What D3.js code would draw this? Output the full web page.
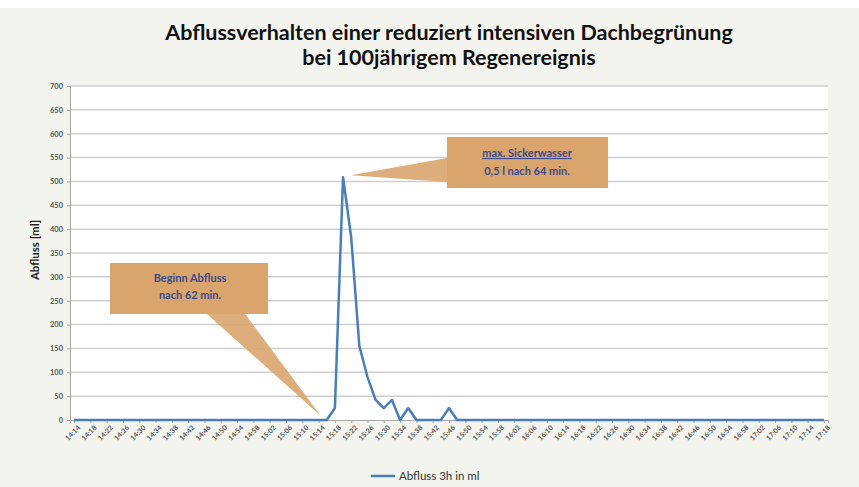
<!DOCTYPE html>
<html><head><meta charset="utf-8">
<script src="https://cdn.jsdelivr.net/npm/d3@7"></script>
<style>body{margin:0;background:#fff}svg{display:block}</style>
</head><body><svg id="c" width="859" height="487"></svg>
<script>
// ---- data ----
const startTime = "14:14";
const stepMinutes = 2;
const values = [
  0,0,0,0,0,0,0,0,0,0, 0,0,0,0,0,0,0,0,0,0, 0,0,0,0,0,0,0,0,0,0,
  0,0,25,509,383,155,90,42,25,42, 0,25,0,0,0,0,25,0,0,0,
  0,0,0,0,0,0,0,0,0,0, 0,0,0,0,0,0,0,0,0,0, 0,0,0,0,0,0,0,0,0,0,
  0,0,0,0,0,0,0,0,0,0, 0,0,0
];
const yTicks = [0,50,100,150,200,250,300,350,400,450,500,550,600,650,700];
const titleLines = ["Abflussverhalten einer reduziert intensiven Dachbegrünung","bei 100jährigem Regenereignis"];
const yTitle = "Abfluss [ml]";
const seriesName = "Abfluss 3h in ml";
const note1 = ["Beginn Abfluss","nach 62 min."];
const note2 = ["max. Sickerwasser","0,5 l nach 64 min."];

// build time categories
function fmt(m){const h=Math.floor(m/60),mm=m%60;return String(h).padStart(2,"0")+":"+String(mm).padStart(2,"0");}
const [sh,sm] = startTime.split(":").map(Number);
const times = values.map((v,i)=>fmt(sh*60+sm+i*stepMinutes));
const data = values.map((v,i)=>({t:times[i],v}));

const svg = d3.select("#c");
const W=859,H=487;
svg.append("rect").attr("width",W).attr("height",H).attr("fill","#f4f4ef");
svg.append("rect").attr("width",W).attr("height",8).attr("fill","#ffffff");

const m = {l:70,r:828,t:86,b:420};
svg.append("rect").attr("x",m.l).attr("y",m.t).attr("width",m.r-m.l).attr("height",m.b-m.t).attr("fill","#ffffff");

const x = d3.scalePoint().domain(times).range([m.l,m.r]).padding(0.5);
const y = d3.scaleLinear().domain([0,700]).range([m.b,m.t]);

// grid
svg.append("g").selectAll("line").data(yTicks.filter(d=>d>0)).join("line")
  .attr("x1",m.l).attr("x2",m.r).attr("y1",d=>y(d)).attr("y2",d=>y(d))
  .attr("stroke","#cfcfcf").attr("stroke-width",1.5);

// y axis
const ya = svg.append("g").attr("transform",`translate(${m.l},0)`)
  .call(d3.axisLeft(y).tickValues(yTicks).tickSize(3).tickPadding(4));
ya.select(".domain").attr("stroke","#a6a6a6");
ya.selectAll(".tick line").attr("stroke","#a6a6a6");
ya.selectAll("text").attr("font-family","Lato, sans-serif").attr("font-size",7.5).attr("fill","#555").attr("font-weight","bold");

// x axis
const xa = svg.append("g").attr("transform",`translate(0,${m.b})`)
  .call(d3.axisBottom(x).tickValues(times.filter((t,i)=>i%2===0)).tickSize(3).tickPadding(3));
xa.select(".domain").attr("stroke","#a6a6a6");
xa.selectAll(".tick line").attr("stroke","#a6a6a6");
xa.selectAll("text").attr("font-family","Lato, sans-serif").attr("font-size",7).attr("fill","#555").attr("font-weight","bold")
  .attr("text-anchor","end").attr("dx","-0.2em").attr("dy","0.6em").attr("transform","rotate(-45)");

// line
svg.append("path").datum(data)
  .attr("d",d3.line().x(d=>x(d.t)).y(d=>y(d.v)))
  .attr("fill","none").attr("stroke","#4a7ebb").attr("stroke-width",2.5).attr("stroke-linejoin","round");

// annotations
const tan="#d9a56d";
const ptStart = data[32], ptPeak = data[33];
// callout 1
svg.append("path").attr("d",`M207,314 L245,314 L${x(ptStart.t)-14},${y(ptStart.v)+8} Z`).attr("fill",tan).attr("opacity",0.9);
svg.append("rect").attr("x",110).attr("y",263).attr("width",158).attr("height",51).attr("fill",tan);
svg.append("g").selectAll("text").data(note1).join("text")
  .attr("x",190).attr("y",(d,i)=>282+i*17).attr("text-anchor","middle")
  .attr("font-family","Lato, sans-serif").attr("font-weight","bold").attr("font-size",11).attr("fill","#3b4a8f").text(d=>d);
// callout 2
svg.append("path").attr("d",`M${x(ptPeak.t)+8},${y(ptPeak.v)-2} L447,158 L447,182 Z`).attr("fill",tan).attr("opacity",0.9);
svg.append("rect").attr("x",447).attr("y",137).attr("width",161).attr("height",51).attr("fill",tan);
svg.append("g").selectAll("text").data(note2).join("text")
  .attr("x",527).attr("y",(d,i)=>157+i*18).attr("text-anchor","middle")
  .attr("font-family","Lato, sans-serif").attr("font-weight","bold").attr("font-size",11).attr("fill","#3b4a8f")
  .attr("text-decoration",(d,i)=>i===0?"underline":null).text(d=>d);

// title
svg.append("g").selectAll("text").data(titleLines).join("text")
  .attr("x",449).attr("y",(d,i)=>40+i*25).attr("text-anchor","middle")
  .attr("font-family","Lato, sans-serif").attr("font-weight","bold").attr("font-size",21.5).attr("fill","#111").text(d=>d);

// y title
svg.append("text").attr("transform","translate(39,250) rotate(-90)").attr("text-anchor","middle")
  .attr("font-family","Lato, sans-serif").attr("font-weight","bold").attr("font-size",11.5).attr("fill","#222").text(yTitle);

// legend
svg.append("line").attr("x1",371).attr("x2",395).attr("y1",476).attr("y2",476).attr("stroke","#4a7ebb").attr("stroke-width",2.5);
svg.append("text").attr("x",399).attr("y",480).attr("font-family","Lato, sans-serif").attr("font-size",11.5).attr("fill","#333").text(seriesName);
</script></body></html>
